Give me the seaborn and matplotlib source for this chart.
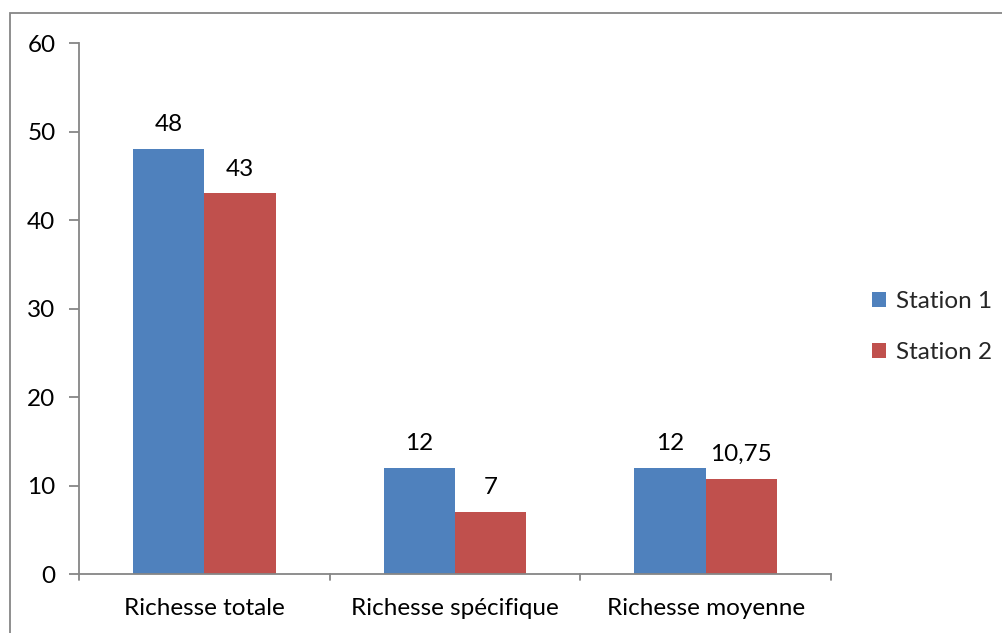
import pandas as pd
import seaborn as sns
import matplotlib.pyplot as plt
from matplotlib.patches import Rectangle

categories = ['Richesse totale', 'Richesse spécifique', 'Richesse moyenne']
station_1 = [48, 12, 12]
station_2 = [43, 7, 10.75]
series = ['Station 1', 'Station 2']
y_ticks = [0, 10, 20, 30, 40, 50, 60]

df = pd.DataFrame({
    'cat': categories * 2,
    'val': station_1 + station_2,
    'station': [series[0]] * 3 + [series[1]] * 3,
})

sns.set_style('white')
plt.rcParams['font.family'] = ['Lato', 'DejaVu Sans']
fs = 17.5

fig = plt.figure(figsize=(10.03, 6.33), dpi=100)
ax = fig.add_axes([0.0788, 0.0932, 0.7497, 0.8388])

sns.barplot(data=df, x='cat', y='val', hue='station', order=categories,
            hue_order=series, palette=['#4F81BD', '#C0504D'], width=0.57,
            saturation=1, ax=ax, errorbar=None, linewidth=0)

for cont in ax.containers:
    labels = [f'{v:g}'.replace('.', ',') for v in cont.datavalues]
    ax.bar_label(cont, labels=labels, padding=10, fontsize=fs, color='black')

ax.set_ylim(0, 60)
ax.set_yticks(y_ticks)
ax.set_xlim(-0.5, 2.5)
ax.set_xlabel('')
ax.set_ylabel('')
ax.set_xticks([0, 1, 2])
ax.set_xticklabels(categories)
ax.tick_params(axis='x', length=0, pad=17, labelsize=fs, colors='black')
ax.tick_params(axis='y', length=7, width=1.3, color='#868686', pad=10,
               labelsize=fs, labelcolor='black', left=True)
# category boundary ticks on the x axis
for xb in [-0.5, 0.5, 1.5, 2.5]:
    ax.plot([xb, xb], [0, -0.012], transform=ax.get_xaxis_transform(),
            color='#868686', lw=1.3, clip_on=False)

for s in ['top', 'right']:
    ax.spines[s].set_visible(False)
for s in ['left', 'bottom']:
    ax.spines[s].set_color('#868686')
    ax.spines[s].set_linewidth(1.3)

ax.legend(loc='center left', bbox_to_anchor=(1.025, 0.465), frameon=False,
          fontsize=fs, handlelength=0.6, handleheight=0.6,
          handletextpad=0.4, labelspacing=1.25)

fig.patches.append(Rectangle((10 / 1003, -0.05), 1.1, (633 - 13) / 633 + 0.05,
                             transform=fig.transFigure, fill=False,
                             edgecolor='#868686', lw=1.3))

fig.savefig('out.png', dpi=100)
